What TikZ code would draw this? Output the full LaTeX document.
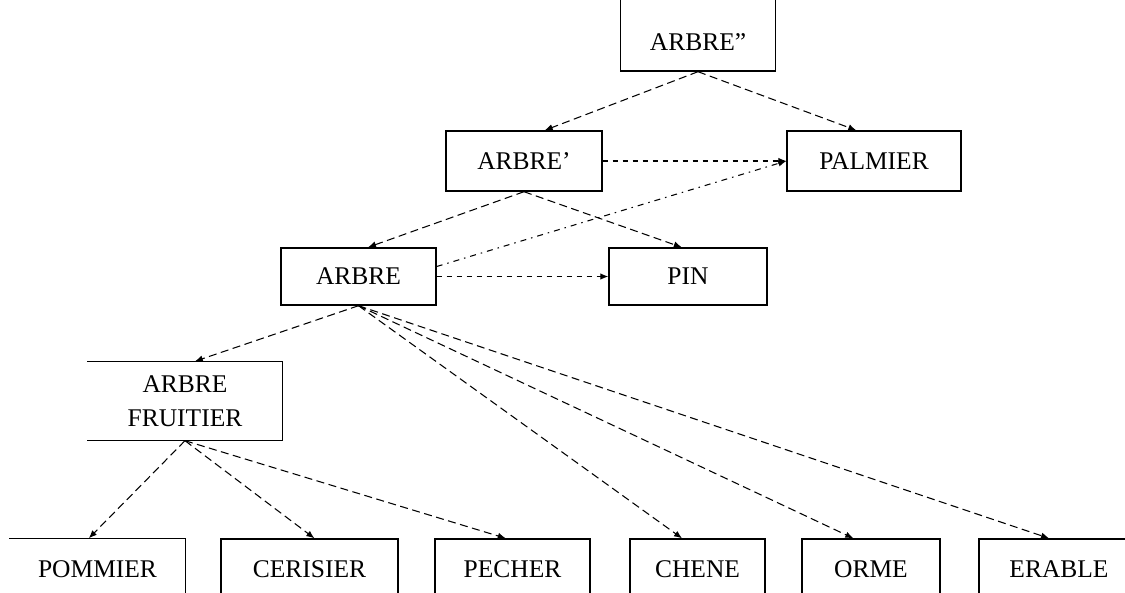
\documentclass[tikz,border=0pt]{standalone}
\usepackage{fontspec}
\setmainfont{Liberation Serif}
\usetikzlibrary{arrows.meta}

\begin{document}
\begin{tikzpicture}[x=0.02cm, y=-0.02cm,
        >={Latex[length=1.6mm,width=1.3mm]},
        box/.style={draw, line width=0.8pt, minimum height=1.2cm, inner sep=0pt,
            font=\fontsize{14.5}{19.5}\selectfont},
        leaf/.style={box, anchor=base, text height=0.76cm, text depth=0.6cm},
        link/.style={->, line width=0.6pt, dash pattern=on 1.6mm off 0.9mm},
        dots/.style={->, line width=0.6pt, dash pattern=on 1mm off 1mm},
        dashdot/.style={->, line width=0.6pt, dash pattern=on 1.2mm off 1mm on 0.3mm off 1mm}]
        \useasboundingbox (0, 0) rectangle (1125, 592);

        \node[box, anchor=base, minimum width=3.1cm, text height=1.2cm, text depth=0.42cm]
            (arbre2) at (698, 50) {ARBRE''};
        \node[box, minimum width=3.12cm] (arbre1) at (524, 161) {ARBRE'};
        \node[box, minimum width=3.48cm] (palmier) at (874, 161) {PALMIER};
        \node[box, minimum width=3.1cm, minimum height=1.14cm] (arbre) at (358.5, 276.5) {ARBRE};
        \node[box, minimum width=3.16cm, minimum height=1.14cm] (pin) at (688, 276.5) {PIN};
        \node[box, draw=none, minimum width=3.88cm, minimum height=1.56cm, align=center]
            (fruitier) at (185, 401) {ARBRE\\FRUITIER};

        \node[leaf, draw=none, minimum width=3.5cm] (pommier) at (97.5, 577) {POMMIER};
        \node[leaf, minimum width=3.54cm] (cerisier) at (309.5, 577) {CERISIER};
        \node[leaf, minimum width=3.1cm] (pecher) at (512.5, 577) {PECHER};
        \node[leaf, minimum width=2.7cm] (chene) at (697.5, 577) {CHENE};
        \node[leaf, minimum width=2.76cm] (orme) at (871, 577) {ORME};
        \node[leaf, minimum width=3.2cm] (erable) at (1059, 577) {ERABLE};

        % boxes left open on the left side
        \draw[line width=0.8pt]
            (fruitier.north west) -- (fruitier.north east) -- (fruitier.south east) -- (fruitier.south west);
        \draw[line width=0.8pt]
            (pommier.north west) -- (pommier.north east) -- (pommier.south east);

        \draw[link] (arbre2.south) -- (arbre1.56);
        \draw[link] (arbre2.south) -- (palmier.120);
        \draw[link] (arbre1.south) -- (arbre.72);
        \draw[link] (arbre1.south) -- (pin.102);

        \draw[dots] (arbre1.east) -- (palmier.west);
        \draw[dots] (arbre.east) -- (pin.west);
        \draw[dashdot] ([yshift=2mm]arbre.east) -- (palmier.west);

        \draw[link] (arbre.south) -- (fruitier.76);
        \draw[link] (arbre.south) -- (chene.114);
        \draw[link] (arbre.south) -- (orme.117);
        \draw[link] (arbre.south) -- (erable.106);

        \draw[link] (fruitier.south) -- (pommier.104);
        \draw[link] (fruitier.south) -- (cerisier.82);
        \draw[link] (fruitier.south) -- (pecher.101);
    \end{tikzpicture}
\end{document}
